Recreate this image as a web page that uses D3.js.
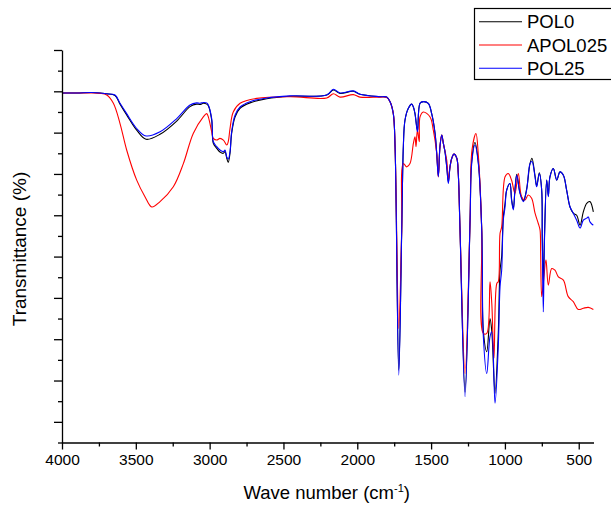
<!DOCTYPE html>
<html>
<head>
<meta charset="utf-8">
<script src="https://cdn.jsdelivr.net/npm/d3@7"></script>
<style>
    body { margin: 0; background: #fff; }
    svg { display: block; font-family: Arial, "Liberation Sans", sans-serif; }
</style>
</head>
<body>
<svg id="chart"></svg>
<script>
// wave number (cm-1) / transmittance pairs
var seriesNames = ['POL0', 'APOL025', 'POL25'];
var seriesColors = ['#000000', '#ff0000', '#0000ff'];

var pol0 = [
    [4000, 89.6], [3900, 89.6], [3800, 89.7], [3743, 89.6], [3700, 89.4], [3641, 89.0],
    [3607, 86.9], [3562, 84.3], [3494, 80.6], [3431, 78.4], [3336, 79.6], [3223, 82.8],
    [3133, 86.3], [3088, 86.9], [3065, 86.8], [3043, 87.1], [3020, 86.9], [3009, 86.5],
    [2986, 83.0], [2975, 77.4], [2952, 76.2], [2930, 75.3], [2907, 75.0], [2896, 75.4],
    [2884, 73.8], [2874, 72.8], [2862, 75.0], [2851, 79.8], [2828, 83.8], [2794, 85.9],
    [2727, 87.2], [2613, 88.2], [2456, 88.8], [2207, 89.1], [2162, 90.3], [2117, 89.5],
    [2027, 90.0], [1982, 89.3], [1846, 88.7], [1801, 88.6], [1778, 87.5], [1756, 84.6],
    [1744, 76.6], [1719, 22.5], [1699, 56.4], [1688, 76.6], [1677, 83.0], [1654, 85.9],
    [1631, 86.9], [1620, 86.2], [1609, 84.6], [1592, 80.4], [1575, 87.1], [1553, 87.5],
    [1519, 87.1], [1496, 84.6], [1473, 79.8], [1462, 75.0], [1451, 69.5], [1440, 76.6],
    [1428, 79.4], [1417, 77.4], [1406, 75.4], [1394, 71.7], [1383, 68.0], [1372, 71.7],
    [1360, 73.8], [1345, 74.8], [1326, 73.8], [1316, 70.1], [1304, 56.4], [1270, 17.2],
    [1236, 58.8], [1225, 73.0], [1203, 77.6], [1180, 72.8], [1157, 56.4], [1146, 32.0],
    [1123, 27.0], [1101, 35.0], [1089, 32.0], [1067, 16.9], [1045, 31.4], [1033, 46.7],
    [1022, 50.0], [1011, 59.5], [999, 62.9], [988, 66.1], [966, 67.7], [955, 63.9],
    [943, 61.6], [932, 66.1], [920, 69.9], [898, 65.5], [875, 63.5], [853, 66.3],
    [830, 72.5], [817, 73.8], [796, 69.5], [785, 67.1], [767, 70.3], [751, 66.1],
    [747, 55.0], [740, 43.5], [732, 55.0], [717, 68.5], [706, 64.7], [695, 69.3],
    [672, 71.3], [649, 68.5], [627, 70.5], [604, 69.7], [582, 66.1], [559, 62.0],
    [537, 60.5], [514, 60.0], [491, 57.6], [469, 60.8], [446, 62.9], [424, 63.3],
    [401, 60.8]
];

var apol025 = [
    [4000, 89.6], [3900, 89.6], [3800, 89.6], [3743, 89.5], [3697, 89.1], [3652, 87.1],
    [3607, 82.2], [3562, 75.8], [3494, 68.5], [3438, 64.5], [3392, 62.0], [3336, 63.3],
    [3246, 66.9], [3178, 72.5], [3111, 79.8], [3043, 83.8], [3020, 84.6], [3009, 83.8],
    [2986, 80.2], [2975, 78.6], [2952, 78.2], [2930, 78.6], [2907, 78.2], [2884, 77.0],
    [2874, 77.8], [2862, 81.0], [2840, 85.0], [2794, 87.1], [2681, 88.3], [2456, 88.7],
    [2207, 88.4], [2162, 89.4], [2117, 88.6], [2027, 89.2], [1982, 88.6], [1846, 88.6],
    [1801, 88.5], [1778, 87.5], [1756, 84.6], [1744, 76.6], [1719, 32.6], [1699, 56.4],
    [1688, 72.5], [1665, 71.7], [1643, 72.5], [1620, 77.4], [1609, 79.0], [1602, 76.6],
    [1593, 80.6], [1580, 77.8], [1575, 83.8], [1553, 85.0], [1507, 83.8], [1485, 80.6],
    [1462, 75.0], [1451, 69.3], [1440, 76.6], [1428, 79.4], [1417, 77.4], [1394, 73.3],
    [1383, 68.5], [1372, 71.7], [1360, 73.8], [1345, 74.8], [1326, 73.8], [1316, 70.1],
    [1304, 56.4], [1270, 21.7], [1236, 58.8], [1223, 75.8], [1196, 79.8], [1180, 74.5],
    [1157, 56.4], [1146, 31.4], [1123, 31.4], [1101, 43.9], [1089, 38.7], [1074, 25.4],
    [1055, 43.5], [1045, 43.9], [1033, 55.6], [1022, 57.2], [999, 69.3], [977, 70.1],
    [955, 68.5], [932, 65.3], [909, 70.1], [887, 64.5], [864, 63.7], [842, 64.9],
    [819, 64.1], [796, 60.5], [774, 58.0], [762, 56.4], [758, 50.8], [751, 40.3],
    [740, 43.5], [722, 49.2], [706, 43.1], [683, 47.1], [661, 46.7], [638, 45.1],
    [604, 44.3], [571, 40.3], [537, 39.1], [503, 37.2], [469, 37.5], [435, 37.7],
    [401, 37.2]
];

var pol25 = [
    [4000, 89.6], [3900, 89.6], [3800, 89.7], [3743, 89.6], [3700, 89.4], [3641, 89.1],
    [3607, 87.1], [3562, 84.6], [3494, 81.0], [3431, 79.2], [3336, 80.2], [3223, 83.4],
    [3133, 86.7], [3088, 87.2], [3065, 87.1], [3043, 87.3], [3020, 87.2], [3009, 86.7],
    [2986, 83.4], [2975, 77.8], [2952, 76.6], [2930, 75.8], [2907, 75.4], [2896, 75.8],
    [2884, 74.1], [2874, 73.6], [2862, 75.4], [2851, 80.2], [2828, 84.2], [2794, 86.2],
    [2727, 87.5], [2613, 88.4], [2456, 88.9], [2207, 89.1], [2162, 90.5], [2117, 89.6],
    [2027, 90.1], [1982, 89.3], [1846, 88.7], [1801, 88.6], [1778, 87.5], [1756, 84.6],
    [1744, 76.6], [1719, 21.3], [1699, 56.4], [1688, 76.6], [1677, 83.0], [1654, 85.9],
    [1631, 86.9], [1620, 86.2], [1609, 84.6], [1592, 80.2], [1575, 87.1], [1553, 87.5],
    [1519, 87.1], [1496, 84.6], [1473, 79.8], [1462, 75.0], [1451, 69.3], [1440, 76.6],
    [1428, 79.4], [1417, 77.4], [1406, 75.4], [1394, 71.7], [1383, 67.7], [1372, 71.7],
    [1360, 73.8], [1345, 74.8], [1326, 73.8], [1316, 70.1], [1304, 56.4], [1270, 16.1],
    [1236, 58.8], [1225, 72.5], [1203, 77.0], [1180, 72.5], [1157, 56.4], [1146, 30.6],
    [1123, 21.7], [1101, 30.6], [1089, 31.8], [1067, 14.5], [1045, 28.2], [1033, 42.7],
    [1022, 46.7], [1011, 58.8], [999, 62.0], [988, 66.1], [966, 67.7], [955, 63.7],
    [943, 61.3], [932, 66.1], [920, 69.7], [898, 65.3], [875, 63.3], [853, 66.1],
    [830, 72.5], [817, 73.0], [796, 69.3], [785, 66.9], [767, 70.1], [751, 66.1],
    [747, 54.0], [740, 36.6], [732, 54.0], [717, 68.5], [706, 64.5], [695, 69.3],
    [672, 71.3], [649, 68.5], [627, 70.5], [604, 69.7], [582, 66.1], [559, 62.0],
    [537, 60.5], [514, 58.8], [491, 56.9], [469, 58.8], [446, 59.3], [435, 59.6],
    [424, 58.4], [401, 57.6]
];

var xMajorTicks = [4000, 3500, 3000, 2500, 2000, 1500, 1000, 500];
var xMinorTicks = [3750, 3250, 2750, 2250, 1750, 1250, 750];
var yMajorTicks = [10, 20, 30, 40, 50, 60, 70, 80, 90, 100];
var yMinorTicks = [5, 15, 25, 35, 45, 55, 65, 75, 85, 95];

var width = 611,
    height = 510,
    plotLeft = 62,
    plotRight = 593.5,
    plotTop = 50,
    plotBottom = 442.5;

var svg = d3.select('#chart')
    .attr('width', width)
    .attr('height', height);

var x = d3.scaleLinear().domain([4000, 400]).range([plotLeft, plotRight]);
var y = d3.scaleLinear().domain([5, 100]).range([plotBottom, plotTop]);

var line = d3.line()
    .x(function (d) { return x(d[0]); })
    .y(function (d) { return y(d[1]); })
    .curve(d3.curveCatmullRom.alpha(0.5));

// spectra, blue drawn last like the original
[pol0, apol025, pol25].forEach(function (data, i) {
    svg.append('path')
        .datum(data)
        .attr('d', line)
        .attr('fill', 'none')
        .attr('stroke', seriesColors[i])
        .attr('stroke-width', 1.1)
        .attr('stroke-linejoin', 'round');
});

// x axis
svg.append('g')
    .attr('transform', 'translate(0,' + plotBottom + ')')
    .call(d3.axisBottom(x).tickValues(xMinorTicks).tickSize(4).tickFormat(''))
    .call(function (g) { g.select('.domain').remove(); });

var xAxis = svg.append('g')
    .attr('transform', 'translate(0,' + plotBottom + ')')
    .call(d3.axisBottom(x).tickValues(xMajorTicks).tickSize(7).tickSizeOuter(0)
        .tickPadding(4).tickFormat(d3.format('d')));

xAxis.selectAll('text')
    .attr('font-size', '15.5px')
    .attr('fill', '#000');

// y axis, no labels
svg.append('g')
    .attr('transform', 'translate(' + plotLeft + ',0)')
    .call(d3.axisLeft(y).tickValues(yMinorTicks).tickSize(4).tickFormat(''))
    .call(function (g) { g.select('.domain').remove(); });

svg.append('g')
    .attr('transform', 'translate(' + plotLeft + ',0)')
    .call(d3.axisLeft(y).tickValues(yMajorTicks).tickSize(8).tickSizeOuter(0).tickFormat(''));

svg.selectAll('.domain, .tick line')
    .attr('stroke', '#000')
    .attr('stroke-width', 1.3);

// axis titles
var xTitle = svg.append('text')
    .attr('x', (plotLeft + plotRight) / 2 - 1)
    .attr('y', 499)
    .attr('text-anchor', 'middle')
    .attr('font-size', '18.5px')
    .attr('fill', '#000');
xTitle.append('tspan').text('Wave number (cm');
xTitle.append('tspan').attr('dy', -7).attr('font-size', '11px').text('-1');
xTitle.append('tspan').attr('dy', 7).text(')');

svg.append('text')
    .attr('transform', 'translate(26,249) rotate(-90)')
    .attr('text-anchor', 'middle')
    .attr('font-size', '19px')
    .attr('fill', '#000')
    .text('Transmittance (%)');

// legend
var legend = svg.append('g');

legend.append('rect')
    .attr('x', 474.5)
    .attr('y', 8.5)
    .attr('width', 140)
    .attr('height', 71)
    .attr('fill', '#fff')
    .attr('stroke', '#000')
    .attr('stroke-width', 1.2);

seriesNames.forEach(function (name, i) {
    var ly = 21.7 + i * 23.3;
    legend.append('line')
        .attr('x1', 479)
        .attr('x2', 522)
        .attr('y1', ly)
        .attr('y2', ly)
        .attr('stroke', seriesColors[i])
        .attr('stroke-width', 1.1);
    legend.append('text')
        .attr('x', 527)
        .attr('y', ly + 6.5)
        .attr('font-size', '18.5px')
        .attr('fill', '#000')
        .text(name);
});
</script>
</body>
</html>
